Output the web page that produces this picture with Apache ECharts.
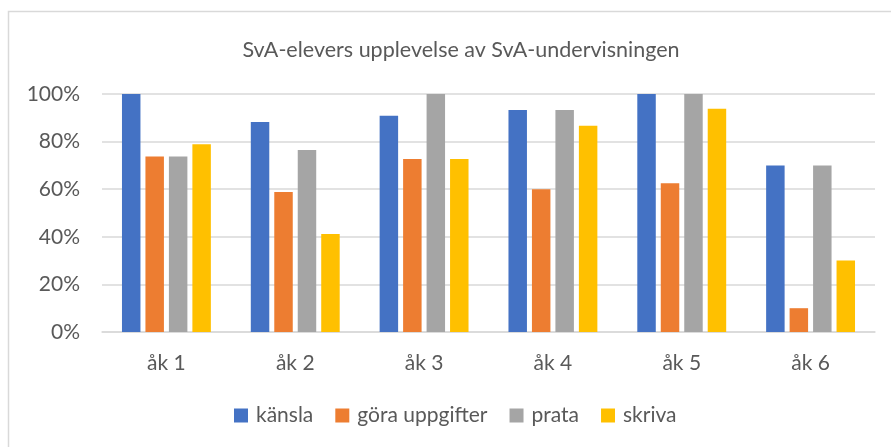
<!DOCTYPE html>
<html>
<head>
<meta charset="utf-8">
<script src="https://cdn.jsdelivr.net/npm/echarts@6/dist/echarts.min.js"></script>
<style>
html,body{margin:0;padding:0;background:#fff;}
#c{width:891px;height:447px;}
</style>
</head>
<body>
<div id="c"></div>
<script>
const categories = ['åk 1','åk 2','åk 3','åk 4','åk 5','åk 6'];
const kansla = [100, 88.2, 90.9, 93.3, 100, 70];
const goraUppgifter = [73.7, 58.8, 72.7, 60, 62.5, 10];
const prata = [73.7, 76.5, 100, 93.3, 100, 70];
const skriva = [78.9, 41.2, 72.7, 86.7, 93.8, 30];
const yTicks = [0, 20, 40, 60, 80, 100];

const FONT = 'Lato, "Open Sans", sans-serif';
const TXT = '#595959';
const chart = echarts.init(document.getElementById('c'), null, {renderer:'canvas'});
const mk = (name, data, color) => ({
  name, type:'bar', data, itemStyle:{color}, barGap:'27%', barCategoryGap:'31%'
});
chart.setOption({
  animation:false,
  graphic:[{type:'rect', shape:{x:8.5,y:11.5,width:1000,height:1000}, style:{fill:'none', stroke:'#d9d9d9', lineWidth:1.5}, silent:true}],
  title:{text:'SvA-elevers upplevelse av SvA-undervisningen', left:456, top:34, textAlign:'center',
    textStyle:{fontFamily:FONT, fontSize:21.5, fontWeight:'normal', color:TXT}},
  legend:{top:400, left:229, itemWidth:14, itemHeight:14, itemGap:22, icon:'rect',
    textStyle:{fontFamily:FONT, fontSize:21, color:TXT, padding:[0,0,0,3]}},
  grid:{left:102, right:16, top:94, bottom:115},
  xAxis:{type:'category', data:categories, axisTick:{show:false},
    axisLine:{lineStyle:{color:'#d9d9d9', width:1.5}},
    axisLabel:{fontFamily:FONT, fontSize:21, color:TXT, margin:21}},
  yAxis:{type:'value', min:0, max:100, interval:20,
    axisLabel:{formatter: v => yTicks.includes(v) ? v + '%' : '', fontFamily:FONT, fontSize:21, color:TXT, margin:22},
    splitLine:{lineStyle:{color:'#d9d9d9', width:1.5}}, axisLine:{show:false}, axisTick:{show:false}},
  series:[
    mk('känsla', kansla, '#4472C4'),
    mk('göra uppgifter', goraUppgifter, '#ED7D31'),
    mk('prata', prata, '#A5A5A5'),
    mk('skriva', skriva, '#FFC000')
  ]
});
</script>
</body>
</html>
